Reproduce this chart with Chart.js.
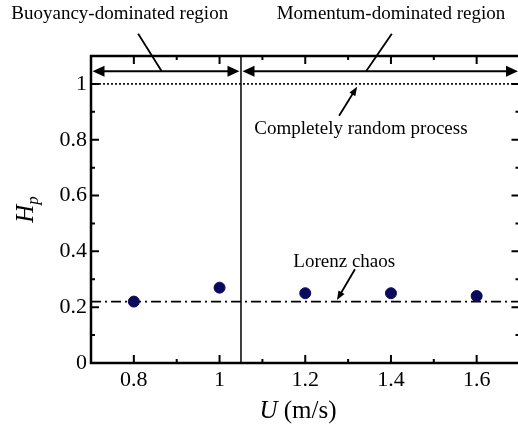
<!DOCTYPE html>
<html lang="en">
<head>
  <meta charset="UTF-8">
  <title>Hp vs U</title>
  <script src="https://cdn.jsdelivr.net/npm/chart.js"></script>
  <style>
    body {
      margin: 0;
      padding: 0;
      background: #fff;
      overflow: hidden;
    }
    #wrap {
      position: absolute;
      left: 0;
      top: 0;
      width: 526px;
      height: 428px;
    }
  </style>
</head>
<body>
  <div id="wrap">
    <canvas id="hpChart" width="526" height="428"></canvas>
  </div>

  <script>
    // data
    const uValues = [0.8, 1.0, 1.2, 1.4, 1.6];
    const hpValues = [0.22, 0.27, 0.25, 0.25, 0.24];
    const lorenzLevel = 0.22;
    const randomLevel = 1;
    const regionSplit = 1.05;
    const arrowLevel = 1.045;
    const xRange = [0.7, 1.7];
    const yRange = [0, 1.1];
    const xTickLabels = ['0.8', '1', '1.2', '1.4', '1.6'];
    const yTickLabels = ['0', '0.2', '0.4', '0.6', '0.8', '1'];

    const serif = '"Liberation Serif", "Times New Roman", serif';

    function labelFor(list, v) {
      const hit = list.find(t => Math.abs(parseFloat(t) - v) < 1e-6);
      return hit === undefined ? '' : hit;
    }

    // annotation texts, anchored in data units
    const notes = [
      { text: 'Buoyancy-dominated region', x: 0.767, y: 1.25, from: [0.81, 1.18], to: [0.865, arrowLevel], head: false },
      { text: 'Momentum-dominated region', x: 1.40, y: 1.25, from: [1.402, 1.18], to: [1.342, arrowLevel], head: false },
      { text: 'Completely random process', x: 1.33, y: 0.838, from: [1.279, 0.886], to: [1.321, 0.99], head: true },
      { text: 'Lorenz chaos', x: 1.291, y: 0.361, from: [1.316, 0.336], to: [1.274, 0.226], head: true }
    ];

    function arrowHead(ctx, x0, y0, x1, y1, len, half) {
      const a = Math.atan2(y1 - y0, x1 - x0);
      ctx.beginPath();
      ctx.moveTo(x1, y1);
      ctx.lineTo(x1 - len * Math.cos(a) + half * Math.sin(a), y1 - len * Math.sin(a) - half * Math.cos(a));
      ctx.lineTo(x1 - len * Math.cos(a) - half * Math.sin(a), y1 - len * Math.sin(a) + half * Math.cos(a));
      ctx.closePath();
      ctx.fill();
    }

    const framePlugin = {
      id: 'frame',
      afterDraw(chart) {
        const { ctx, chartArea: a, scales: { x, y } } = chart;
        ctx.save();
        ctx.strokeStyle = '#000';
        ctx.fillStyle = '#000';

        // inward ticks on all four sides
        ctx.lineWidth = 2;
        x.ticks.forEach(t => {
          const px = x.getPixelForValue(t.value);
          const len = labelFor(xTickLabels, t.value) ? 8 : 4;
          ctx.beginPath();
          ctx.moveTo(px, a.bottom); ctx.lineTo(px, a.bottom - len);
          ctx.moveTo(px, a.top); ctx.lineTo(px, a.top + len);
          ctx.stroke();
        });
        y.ticks.forEach(t => {
          const py = y.getPixelForValue(t.value);
          const len = labelFor(yTickLabels, t.value) ? 8 : 4;
          ctx.beginPath();
          ctx.moveTo(a.left, py); ctx.lineTo(a.left + len, py);
          ctx.moveTo(a.right, py); ctx.lineTo(a.right - len, py);
          ctx.stroke();
        });

        // frame
        ctx.lineWidth = 2.5;
        ctx.strokeRect(a.left, a.top, a.right - a.left, a.bottom - a.top);

        // region arrows
        const ay = y.getPixelForValue(arrowLevel);
        const xs = x.getPixelForValue(regionSplit);
        const spans = [[x.getPixelForValue(xRange[0]) + 1.5, xs - 1.5], [xs + 1.5, x.getPixelForValue(xRange[1]) - 1.5]];
        ctx.lineWidth = 2;
        spans.forEach(([l, r]) => {
          ctx.beginPath();
          ctx.moveTo(l + 6, ay); ctx.lineTo(r - 6, ay);
          ctx.stroke();
          arrowHead(ctx, r, ay, l, ay, 12, 5.5);
          arrowHead(ctx, l, ay, r, ay, 12, 5.5);
        });

        // annotations
        ctx.font = '19px ' + serif;
        ctx.textAlign = 'center';
        ctx.textBaseline = 'middle';
        notes.forEach(n => {
          ctx.fillText(n.text, x.getPixelForValue(n.x), y.getPixelForValue(n.y));
          const x0 = x.getPixelForValue(n.from[0]), y0 = y.getPixelForValue(n.from[1]);
          const x1 = x.getPixelForValue(n.to[0]), y1 = y.getPixelForValue(n.to[1]);
          ctx.lineWidth = 1.8;
          ctx.beginPath();
          if (n.head) {
            const a2 = Math.atan2(y1 - y0, x1 - x0);
            ctx.moveTo(x0, y0);
            ctx.lineTo(x1 - 6 * Math.cos(a2), y1 - 6 * Math.sin(a2));
            ctx.stroke();
            arrowHead(ctx, x0, y0, x1, y1, 9, 3.5);
          } else {
            ctx.moveTo(x0, y0);
            ctx.lineTo(x1, y1);
            ctx.stroke();
          }
        });

        // axis titles
        ctx.textAlign = 'left';
        ctx.textBaseline = 'alphabetic';
        ctx.font = 'italic 25px ' + serif;
        const wU = ctx.measureText('U').width;
        ctx.font = '25px ' + serif;
        const wRest = ctx.measureText(' (m/s)').width;
        const sx = 298 - (wU + wRest) / 2;
        ctx.font = 'italic 25px ' + serif;
        ctx.fillText('U', sx, a.bottom + 55);
        ctx.font = '25px ' + serif;
        ctx.fillText(' (m/s)', sx + wU, a.bottom + 55);

        ctx.translate(33, (a.top + a.bottom) / 2);
        ctx.rotate(-Math.PI / 2);
        ctx.font = 'italic 25px ' + serif;
        const wH = ctx.measureText('H').width;
        ctx.font = 'italic 17px ' + serif;
        const wP = ctx.measureText('p').width;
        const hx = -(wH + wP) / 2;
        ctx.font = 'italic 25px ' + serif;
        ctx.fillText('H', hx, 0);
        ctx.font = 'italic 17px ' + serif;
        ctx.fillText('p', hx + wH, 5);
        ctx.restore();
      }
    };

    new Chart(document.getElementById('hpChart'), {
      data: {
        datasets: [
          {
            type: 'scatter',
            data: uValues.map((u, i) => ({ x: u, y: hpValues[i] })),
            backgroundColor: '#0a0a5c',
            borderColor: '#0a0a5c',
            pointRadius: 5.5,
            order: 0
          },
          {
            type: 'line',
            data: [{ x: xRange[0], y: lorenzLevel }, { x: xRange[1], y: lorenzLevel }],
            borderColor: '#000',
            borderWidth: 1.6,
            borderDash: [10, 4, 2, 4],
            pointRadius: 0,
            order: 1
          },
          {
            type: 'line',
            data: [{ x: xRange[0], y: randomLevel }, { x: xRange[1], y: randomLevel }],
            borderColor: '#000',
            borderWidth: 1.6,
            borderDash: [2, 2],
            pointRadius: 0,
            order: 1
          },
          {
            type: 'line',
            data: [{ x: regionSplit, y: yRange[0] }, { x: regionSplit, y: yRange[1] }],
            borderColor: '#000',
            borderWidth: 1.5,
            pointRadius: 0,
            order: 1
          }
        ]
      },
      options: {
        responsive: false,
        devicePixelRatio: 1,
        animation: false,
        events: [],
        layout: { padding: { top: 56, right: 0, left: 0, bottom: 0 } },
        plugins: { legend: { display: false }, tooltip: { enabled: false } },
        scales: {
          x: {
            type: 'linear',
            min: xRange[0],
            max: xRange[1],
            afterFit: s => { s.height = 65; s.paddingLeft = 0; s.paddingRight = 0; },
            grid: { display: false, drawTicks: false },
            border: { display: false },
            ticks: {
              stepSize: 0.1,
              autoSkip: false,
              maxRotation: 0,
              padding: 4,
              color: '#000',
              font: { family: serif, size: 22 },
              callback: v => labelFor(xTickLabels, v)
            }
          },
          y: {
            type: 'linear',
            min: yRange[0],
            max: yRange[1],
            afterFit: s => { s.width = 91; s.paddingTop = 0; s.paddingBottom = 0; },
            grid: { display: false, drawTicks: false },
            border: { display: false },
            ticks: {
              stepSize: 0.1,
              autoSkip: false,
              padding: 4,
              color: '#000',
              font: { family: serif, size: 22 },
              callback: v => labelFor(yTickLabels, v)
            }
          }
        }
      },
      plugins: [framePlugin]
    });
  </script>
</body>
</html>
